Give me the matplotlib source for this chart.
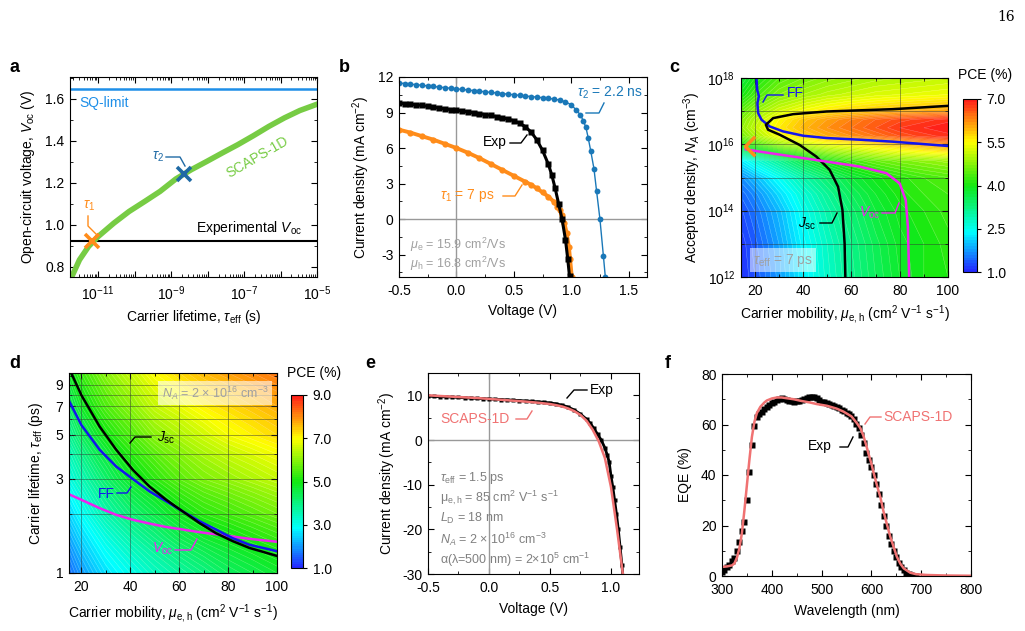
import numpy as np
import matplotlib
matplotlib.use('Agg')
import matplotlib.pyplot as plt
from matplotlib.colors import LinearSegmentedColormap
from matplotlib.path import Path
from matplotlib.lines import Line2D
from matplotlib.ticker import FixedLocator, FuncFormatter, NullFormatter, MultipleLocator, FormatStrFormatter

plt.rcParams.update({
    'font.family': ['Liberation Sans', 'DejaVu Sans'],
    'font.size': 10,
    'mathtext.fontset': 'custom',
    'mathtext.rm': 'Liberation Sans',
    'mathtext.it': 'Liberation Sans:italic',
    'mathtext.bf': 'Liberation Sans:bold',
    'mathtext.sf': 'Liberation Sans',
    'axes.unicode_minus': False,
    'xtick.direction': 'in', 'ytick.direction': 'in',
    'xtick.top': True, 'ytick.right': True,
    'xtick.major.size': 4, 'ytick.major.size': 4,
    'xtick.minor.size': 2, 'ytick.minor.size': 2,
    'xtick.major.pad': 5, 'ytick.major.pad': 4,
    'axes.linewidth': 0.8,
})

# ---------------- data ----------------
# (a) Voc vs lifetime
a_log_tau = [-11.72, -11.51, -11.26, -11.0, -10.57, -10.15, -9.72, -9.30, -8.87,
             -8.45, -8.02, -7.60, -7.17, -6.74, -6.32, -5.89, -5.47, -5.0]
a_voc = [0.752, 0.832, 0.896, 0.943, 1.007, 1.063, 1.111, 1.159, 1.218,
         1.262, 1.302, 1.342, 1.382, 1.425, 1.469, 1.510, 1.545, 1.575]
sq_limit = 1.65
exp_voc = 0.92
tau1_s, voc_tau1 = 7e-12, 0.92
tau2_s, voc_tau2 = 2.2e-9, 1.24

# (b) J-V curves
b_tau2_v = [-0.5, -0.45, -0.4, -0.35, -0.3, -0.25, -0.2, -0.15, -0.1, -0.05, 0.0, 0.05, 0.1,
            0.15, 0.2, 0.25, 0.3, 0.35, 0.4, 0.45, 0.5, 0.55, 0.6, 0.65, 0.7, 0.75, 0.8, 0.85,
            0.9, 0.95, 1.0, 1.04, 1.08, 1.105, 1.128, 1.148, 1.17, 1.198, 1.221, 1.25, 1.28, 1.297]
b_tau2_j = [11.5, 11.45, 11.4, 11.35, 11.3, 11.25, 11.2, 11.15, 11.1, 11.05, 11.0, 10.95, 10.9,
            10.85, 10.8, 10.75, 10.7, 10.65, 10.6, 10.55, 10.5, 10.45, 10.4, 10.35, 10.3, 10.25,
            10.2, 10.13, 10.05, 9.9, 9.65, 9.25, 8.8, 8.3, 7.75, 6.85, 5.75, 4.25, 2.35, 0.0, -3.1, -4.9]
b_tau1_v = [-0.5, -0.4, -0.3, -0.2, -0.1, 0.0, 0.1, 0.2, 0.3, 0.4, 0.5, 0.6, 0.65, 0.7,
            0.75, 0.8, 0.85, 0.88, 0.9, 0.92, 0.94, 0.96, 0.98, 0.99, 1.005]
b_tau1_j = [7.55, 7.3, 7.0, 6.7, 6.35, 6.0, 5.6, 5.15, 4.65, 4.15, 3.65, 3.15, 2.9, 2.6,
            2.25, 1.9, 1.45, 1.05, 0.75, 0.3, -0.3, -1.2, -2.4, -3.4, -4.9]
exp_v = [-0.5, -0.45, -0.4, -0.35, -0.3, -0.25, -0.2, -0.15, -0.1, -0.05, 0.0, 0.05, 0.1, 0.15,
         0.2, 0.25, 0.3, 0.35, 0.4, 0.45, 0.5, 0.55, 0.6, 0.65, 0.7, 0.75, 0.8, 0.83, 0.86,
         0.89, 0.92, 0.95, 0.97, 0.985, 1.0, 1.015, 1.03, 1.045, 1.06, 1.075, 1.09, 1.1]
exp_j = [9.8, 9.75, 9.7, 9.65, 9.6, 9.52, 9.45, 9.38, 9.3, 9.25, 9.2, 9.12, 9.05, 8.98,
         8.9, 8.82, 8.75, 8.65, 8.55, 8.45, 8.3, 8.1, 7.8, 7.35, 6.7, 5.8, 4.65, 3.75, 2.6,
         1.3, 0.0, -1.75, -3.4, -4.85, -8.0, -10.5, -13.5, -16.5, -20.0, -24.0, -28.0, -31.0]
mu_e_label = 15.9
mu_h_label = 16.8

# (c) PCE map vs mobility and acceptor density (tau_eff = 7 ps)
c_mobility = [15, 20, 30, 40, 50, 60, 70, 80, 90, 100]
c_log_NA = [12, 13, 14, 14.5, 15, 15.5, 16, 16.25, 16.5, 16.75, 17, 17.5, 18]
c_pce = [
    [1.1, 1.3, 1.75, 2.3, 2.75, 3.15, 3.5, 3.8, 4.0, 4.1],
    [1.15, 1.35, 1.8, 2.35, 2.8, 3.2, 3.55, 3.85, 4.0, 4.15],
    [1.3, 1.5, 1.95, 2.5, 2.95, 3.35, 3.7, 3.95, 4.1, 4.25],
    [1.45, 1.65, 2.15, 2.65, 3.1, 3.5, 3.8, 4.05, 4.2, 4.3],
    [1.7, 1.95, 2.45, 2.95, 3.35, 3.7, 3.95, 4.15, 4.3, 4.4],
    [2.3, 2.6, 3.1, 3.6, 4.0, 4.3, 4.5, 4.65, 4.75, 4.85],
    [4.0, 4.3, 4.8, 5.1, 5.35, 5.5, 5.7, 5.9, 6.05, 6.2],
    [4.6, 4.9, 5.4, 5.75, 6.0, 6.2, 6.4, 6.6, 6.75, 6.85],
    [4.8, 5.1, 5.6, 5.95, 6.2, 6.4, 6.6, 6.8, 6.9, 7.0],
    [4.7, 5.0, 5.5, 5.85, 6.1, 6.3, 6.5, 6.65, 6.75, 6.85],
    [4.5, 4.8, 5.2, 5.45, 5.65, 5.8, 5.9, 6.0, 6.05, 6.1],
    [4.0, 4.3, 4.7, 4.9, 5.05, 5.15, 5.25, 5.3, 5.35, 5.4],
    [3.7, 4.0, 4.4, 4.6, 4.75, 4.85, 4.95, 5.0, 5.05, 5.1],
]
c_ff_mu = [20.7, 21.0, 21.7, 21.1, 21.4, 22.8, 26.2, 31.7, 40.0, 49.7, 63.4, 77.2, 100]
c_ff_logNA = [18.0, 17.65, 17.45, 17.24, 16.94, 16.74, 16.54, 16.39, 16.26, 16.19, 16.14, 16.08, 15.95]
c_jsc_mu = [100, 77.2, 49.7, 35.9, 27.6, 24.6, 25.5, 30.3, 38.6, 45.5, 51.0, 54.5, 56.3, 57.2, 57.5]
c_jsc_logNA = [17.16, 17.06, 16.99, 16.91, 16.79, 16.59, 16.44, 16.29, 15.98, 15.63, 15.23, 14.72, 14.02, 13.01, 12.0]
c_voc_mu = [16.3, 22.1, 35.9, 49.7, 63.4, 74.5, 80.0, 82.5, 83.4, 83.9]
c_voc_logNA = [15.85, 15.78, 15.63, 15.48, 15.33, 15.13, 14.82, 14.32, 13.51, 12.0]
c_exp_mu, c_exp_logNA = 16.0, 15.95

# (d) PCE map vs mobility and lifetime (N_A = 2e16)
d_mobility = [15, 20, 30, 40, 50, 60, 70, 80, 90, 100]
d_tau_ps = [1, 1.5, 2, 3, 5, 7, 10.3]
d_pce = [
    [1.6, 2.0, 2.6, 3.0, 3.4, 3.7, 4.0, 4.3, 4.5, 4.7],
    [2.1, 2.5, 3.1, 3.6, 4.0, 4.4, 4.7, 4.9, 5.1, 5.3],
    [2.5, 2.9, 3.6, 4.1, 4.5, 4.9, 5.2, 5.4, 5.6, 5.8],
    [3.1, 3.5, 4.2, 4.8, 5.2, 5.6, 5.9, 6.1, 6.3, 6.5],
    [3.8, 4.3, 5.0, 5.5, 6.0, 6.3, 6.6, 6.9, 7.1, 7.3],
    [4.3, 4.8, 5.5, 6.0, 6.5, 6.8, 7.1, 7.3, 7.5, 7.7],
    [4.8, 5.3, 6.0, 6.5, 7.0, 7.3, 7.6, 7.8, 8.0, 8.2],
]
d_jsc_mu = [15.9, 20, 27.5, 34.3, 41.1, 47.9, 54.7, 61.5, 68.3, 75.1, 81.9, 88.7, 100]
d_jsc_tau = [10.3, 7.98, 5.52, 4.21, 3.33, 2.74, 2.35, 2.05, 1.79, 1.59, 1.45, 1.34, 1.22]
d_ff_mu = [14.8, 20, 27.5, 34.3, 41.1, 47.9, 54.7, 61.5, 68.3, 75.1, 81.9, 88.7, 100]
d_ff_tau = [7.53, 5.63, 4.21, 3.46, 2.99, 2.59, 2.31, 2.05, 1.83, 1.66, 1.50, 1.39, 1.29]
d_voc_mu = [14.8, 20, 27.5, 34.3, 41.1, 47.9, 54.7, 61.5, 68.3, 75.1, 81.9, 88.7, 100]
d_voc_tau = [2.51, 2.35, 2.13, 1.97, 1.86, 1.78, 1.71, 1.66, 1.61, 1.57, 1.53, 1.49, 1.44]

# (e) fitted J-V
e_scaps_v = [-0.5, -0.4, -0.3, -0.2, -0.1, 0.0, 0.1, 0.2, 0.3, 0.4, 0.5, 0.55, 0.6, 0.65,
             0.7, 0.75, 0.8, 0.85, 0.9, 0.95, 1.0, 1.05, 1.1, 1.12]
e_scaps_j = [10.0, 9.85, 9.7, 9.55, 9.4, 9.2, 9.0, 8.8, 8.6, 8.35, 8.05, 7.8, 7.5, 7.05,
             6.45, 5.6, 4.3, 2.3, -0.3, -4.0, -10.5, -20.0, -30.5, -34.0]

# (f) EQE
f_exp_wl = list(range(300, 695, 5))
f_exp_eqe = [1.5, 2.5, 3.5, 4.5, 5.8, 7.2, 10.0, 13.5, 18.0, 21.5, 30.0, 41.0, 52.0, 59.5,
             63.0, 64.0, 65.0, 66.0, 67.0, 67.8, 68.5, 69.1, 69.6, 70.1, 70.4, 70.2, 69.8,
             69.4, 69.2, 69.1, 69.2, 69.4, 69.8, 70.1, 70.4, 70.7, 70.9, 70.7, 70.3, 69.7,
             69.0, 69.0, 68.7, 68.2, 67.7, 67.3, 66.9, 66.4, 65.9, 65.3, 64.7, 64.0, 63.2,
             62.2, 60.3, 58.5, 55.8, 52.8, 48.8, 46.0, 43.2, 40.0, 36.3, 32.3, 28.0, 23.8,
             19.8, 16.0, 12.8, 10.0, 7.5, 5.3, 3.5, 2.2, 1.2, 0.6, 0.2, 0.05, 0.0]
f_scaps_wl = [300, 310, 320, 325, 330, 335, 340, 345, 350, 355, 360, 365, 370, 377, 385, 390,
              400, 410, 420, 430, 444, 460, 477, 490, 511, 530, 544, 560, 571, 578, 584, 590,
              594, 600, 604, 611, 618, 624, 631, 638, 645, 651, 658, 665, 678, 690, 712, 750, 800]
f_scaps_eqe = [3.6, 3.8, 4.2, 5.0, 7.3, 11.0, 17.0, 26.0, 36.0, 46.0, 55.0, 61.0, 64.5, 67.0,
               68.7, 69.5, 70.3, 70.7, 70.7, 70.4, 70.0, 69.3, 68.7, 68.1, 67.4, 66.3, 65.1,
               63.2, 60.5, 58.5, 55.5, 51.5, 48.5, 44.5, 41.2, 36.0, 31.2, 25.8, 20.6, 15.5,
               11.3, 7.7, 4.9, 3.0, 1.3, 0.7, 0.4, 0.2, 0.1]

# ---------------- styling ----------------
W, H = 1025, 631
fig = plt.figure(figsize=(W / 100, H / 100), dpi=100)

def axes_px(l, t, r, b):
    return fig.add_axes([l / W, 1 - b / H, (r - l) / W, (b - t) / H])

def ftext(px, py, s, **kw):
    kw.setdefault('va', 'center')
    return fig.text(px / W, 1 - py / H, s, **kw)

def leader(pts, color, lw=1.0):
    xs = [p[0] / W for p in pts]
    ys = [1 - p[1] / H for p in pts]
    fig.add_artist(Line2D(xs, ys, color=color, lw=lw, transform=fig.transFigure))

cmap = LinearSegmentedColormap.from_list(
    'rb', [(0.0, '#2424ff'), (0.23, '#00ffff'), (0.5, '#12e812'), (0.75, '#ffff00'), (1.0, '#ff1a1a')])

GREEN = '#77cc44'
ORANGE = '#ff8c1a'
BLUE_B = '#1a78b8'
PINK = '#f07272'
GRAY = '#a0a0a0'
MAG = '#ee22ee'
FFBLUE = '#1414ee'

# ---------------- (a) ----------------
axA = axes_px(70, 77, 317, 277)
axA.set_xscale('log')
axA.set_xlim(10 ** -11.77, 1e-5)
axA.set_ylim(0.75, 1.705)
axA.axhline(sq_limit, color='#1e8fe8', lw=1.8)
axA.axhline(exp_voc, color='black', lw=1.5)
axA.plot(10 ** np.array(a_log_tau), a_voc, color=GREEN, lw=4.0)
axA.plot([tau1_s], [voc_tau1], marker='x', ms=9.5, mew=2.6, color=ORANGE, ls='none')
axA.plot([tau2_s], [voc_tau2], marker='x', ms=9.5, mew=2.6, color='#1f6aa5', ls='none')
axA.xaxis.set_major_locator(FixedLocator([10.0 ** k for k in range(-11, -4)]))
axA.xaxis.set_minor_locator(FixedLocator([m * 10.0 ** k for k in range(-12, -5) for m in range(2, 10)]))
axA.xaxis.set_major_formatter(FuncFormatter(
    lambda v, _: (r'$10^{%d}$' % round(np.log10(v))) if round(np.log10(v)) % 2 else ''))
axA.xaxis.set_minor_formatter(NullFormatter())
axA.yaxis.set_major_locator(MultipleLocator(0.2))
axA.yaxis.set_minor_locator(MultipleLocator(0.1))
axA.yaxis.set_major_formatter(FormatStrFormatter('%.1f'))
axA.set_xlabel(r'Carrier lifetime, $\tau_\mathrm{eff}$ (s)', labelpad=4)
axA.set_ylabel(r'Open-circuit voltage, $V_\mathrm{oc}$ (V)', labelpad=6)
ftext(79, 103, 'SQ-limit', color='#1e8fe8', ha='left')
ftext(302, 228, r'Experimental $V_\mathrm{oc}$', ha='right')
ftext(257, 157, 'SCAPS-1D', color=GREEN, ha='center', rotation=30)
ftext(158, 157, r'$\tau_2$', color='#1f6aa5', ha='center')
leader([(166, 157), (180, 157), (185, 166)], '#1f6aa5')
ftext(89, 206, r'$\tau_1$', color=ORANGE, ha='center')
leader([(88, 216), (88, 226), (96, 234)], ORANGE)

# ---------------- (b) ----------------
axB = axes_px(399, 77, 647, 277)
axB.set_xlim(-0.5, 1.66)
axB.set_ylim(-4.9, 12)
axB.axhline(0, color='#999999', lw=1.0)
axB.axvline(0, color='#999999', lw=1.0)
axB.plot(b_tau2_v, b_tau2_j, color=BLUE_B, lw=1.0, marker='o', ms=4.2, mec='none')
axB.plot(b_tau1_v, b_tau1_j, color=ORANGE, lw=2.8, marker='o', ms=4.5, mec='none')
axB.plot(exp_v, exp_j, color='black', lw=2.2, marker='s', ms=4, mec='none')
axB.xaxis.set_major_locator(MultipleLocator(0.5))
axB.xaxis.set_minor_locator(MultipleLocator(0.25))
axB.xaxis.set_major_formatter(FormatStrFormatter('%.1f'))
axB.yaxis.set_major_locator(MultipleLocator(3))
axB.yaxis.set_minor_locator(MultipleLocator(1.5))
axB.set_xlabel('Voltage (V)', labelpad=4)
axB.set_ylabel(r'Current density (mA cm$^{-2}$)', labelpad=4)
ftext(577, 93, r'$\tau_2$ = 2.2 ns', color=BLUE_B, ha='left')
leader([(586, 113), (599, 113), (604, 103)], BLUE_B)
ftext(483, 142, 'Exp', ha='left')
leader([(510, 143), (521, 143), (527, 135)], 'black')
ftext(440, 195, r'$\tau_1$ = 7 ps', color=ORANGE, ha='left')
leader([(503, 196), (515, 196), (522, 185)], ORANGE)
ftext(410, 245, r'$\mu_\mathrm{e}$ = %.1f cm$^2$/Vs' % mu_e_label, color=GRAY, ha='left', fontsize=9)
ftext(410, 264, r'$\mu_\mathrm{h}$ = %.1f cm$^2$/Vs' % mu_h_label, color=GRAY, ha='left', fontsize=9)

# ---------------- (c) ----------------
axC = axes_px(741, 78, 948, 277)
lev_c = np.linspace(1, 7, 61)
cfC = axC.contourf(c_mobility, c_log_NA, c_pce, levels=lev_c, cmap=cmap)
axC.contour(c_mobility, c_log_NA, c_pce, levels=lev_c, colors='white', linewidths=0.3, alpha=0.4)
for xv in [20, 40, 60, 80]:
    axC.axvline(xv, color='#333333', lw=0.6, alpha=0.55)
for yv in [13, 14, 15, 16, 17]:
    axC.axhline(yv, color='#333333', lw=0.6, alpha=0.55)
axC.plot(c_ff_mu, c_ff_logNA, color=FFBLUE, lw=1.8)
axC.plot(c_jsc_mu, c_jsc_logNA, color='black', lw=1.8)
axC.plot(c_voc_mu, c_voc_logNA, color=MAG, lw=1.8)
chevron = Path([(1, 1), (0, 0), (1, -1)], [Path.MOVETO, Path.LINETO, Path.LINETO])
axC.plot([c_exp_mu], [c_exp_logNA], marker=chevron, ms=14, mew=2.5, mfc='none',
         color=ORANGE, ls='none', clip_on=False)
axC.set_xlim(14.3, 100)
axC.set_ylim(12, 18)
axC.xaxis.set_major_locator(MultipleLocator(20))
axC.xaxis.set_minor_locator(MultipleLocator(10))
axC.yaxis.set_major_locator(FixedLocator([12, 14, 16, 18]))
axC.yaxis.set_minor_locator(FixedLocator([13, 15, 17]))
axC.yaxis.set_major_formatter(FuncFormatter(lambda v, _: r'$10^{%d}$' % round(v)))
axC.set_xlabel(r'Carrier mobility, $\mu_\mathrm{e,h}$ (cm$^2$ V$^{-1}$ s$^{-1}$)', labelpad=4)
axC.set_ylabel(r'Acceptor density, $N_A$ (cm$^{-3}$)', labelpad=3)
caxC = axes_px(963, 99, 977, 272)
cbC = fig.colorbar(cfC, cax=caxC, ticks=[1.0, 2.5, 4.0, 5.5, 7.0])
cbC.ax.yaxis.set_major_formatter(FormatStrFormatter('%.1f'))
caxC.tick_params(direction='out', length=3, width=0.8)
cbC.outline.set_linewidth(0.8)
ftext(985, 75, 'PCE (%)', ha='center')
ftext(787, 93, 'FF', color=FFBLUE, ha='left')
leader([(763, 102), (767, 95), (783, 95)], FFBLUE)
ftext(798, 224, r'$J_\mathrm{sc}$', ha='left')
leader([(820, 223), (832, 223), (837, 213)], 'black')
ftext(859, 213, r'$V_\mathrm{oc}$', color=MAG, ha='left')
leader([(882, 213), (895, 213), (899, 203)], MAG)
ftext(753, 260, r'$\tau_\mathrm{eff}$ = 7 ps', color=GRAY, ha='left',
      bbox=dict(boxstyle='square,pad=0.25', fc='white', ec='none', alpha=0.55))

# ---------------- (d) ----------------
axD = axes_px(69, 373, 277, 573)
lev_d = np.linspace(1, 9, 81)
cfD = axD.contourf(d_mobility, d_tau_ps, d_pce, levels=lev_d, cmap=cmap)
axD.contour(d_mobility, d_tau_ps, d_pce, levels=lev_d, colors='white', linewidths=0.3, alpha=0.4)
axD.set_yscale('log')
for xv in [20, 40, 60, 80]:
    axD.axvline(xv, color='#333333', lw=0.6, alpha=0.55)
for yv in [2, 3, 4, 5, 6, 7, 8, 9]:
    axD.axhline(yv, color='#333333', lw=0.6, alpha=0.55)
axD.plot(d_voc_mu, d_voc_tau, color=MAG, lw=1.8)
axD.plot(d_ff_mu, d_ff_tau, color=FFBLUE, lw=1.8)
axD.plot(d_jsc_mu, d_jsc_tau, color='black', lw=1.8)
axD.set_xlim(15, 100)
axD.set_ylim(1, 10.3)
axD.xaxis.set_major_locator(MultipleLocator(20))
axD.xaxis.set_minor_locator(MultipleLocator(10))
axD.yaxis.set_major_locator(FixedLocator([1, 3, 5, 7, 9]))
axD.yaxis.set_minor_locator(FixedLocator([2, 4, 6, 8, 10]))
axD.yaxis.set_major_formatter(FuncFormatter(lambda v, _: '%d' % round(v)))
axD.yaxis.set_minor_formatter(NullFormatter())
axD.set_xlabel(r'Carrier mobility, $\mu_\mathrm{e,h}$ (cm$^2$ V$^{-1}$ s$^{-1}$)', labelpad=6)
axD.set_ylabel(r'Carrier lifetime, $\tau_\mathrm{eff}$ (ps)', labelpad=8)
caxD = axes_px(291, 395, 303, 568)
cbD = fig.colorbar(cfD, cax=caxD, ticks=[1.0, 3.0, 5.0, 7.0, 9.0])
cbD.ax.yaxis.set_major_formatter(FormatStrFormatter('%.1f'))
caxD.tick_params(direction='out', length=3, width=0.8)
cbD.outline.set_linewidth(0.8)
ftext(314, 373, 'PCE (%)', ha='center')
ftext(157, 438, r'$J_\mathrm{sc}$', ha='left')
leader([(130, 443), (135, 437), (151, 437)], 'black')
ftext(98, 494, 'FF', color=FFBLUE, ha='left')
leader([(117, 493), (127, 493), (131, 487)], FFBLUE)
ftext(152, 549, r'$V_\mathrm{oc}$', color=MAG, ha='left')
leader([(175, 550), (191, 550), (197, 539)], MAG)
ftext(162, 393, r'$N_A$ = 2 $\times$ 10$^{16}$ cm$^{-3}$', color=GRAY, ha='left', fontsize=9,
      bbox=dict(boxstyle='square,pad=0.3', fc='white', ec='none', alpha=0.6))

# ---------------- (e) ----------------
axE = axes_px(428, 373, 639, 574)
axE.set_xlim(-0.5, 1.23)
axE.set_ylim(-30, 15)
axE.axhline(0, color='#999999', lw=1.0)
axE.axvline(0, color='#999999', lw=1.0)
axE.plot(exp_v, exp_j, color='black', lw=2.0, marker='s', ms=3.5, mec='none')
axE.plot(e_scaps_v, e_scaps_j, color=PINK, lw=1.8)
axE.xaxis.set_major_locator(MultipleLocator(0.5))
axE.xaxis.set_minor_locator(MultipleLocator(0.25))
axE.xaxis.set_major_formatter(FormatStrFormatter('%.1f'))
axE.yaxis.set_major_locator(MultipleLocator(10))
axE.yaxis.set_minor_locator(MultipleLocator(5))
axE.set_xlabel('Voltage (V)', labelpad=5)
axE.set_ylabel(r'Current density (mA cm$^{-2}$)', labelpad=3)
ftext(590, 390, 'Exp', ha='left')
leader([(567, 398), (574, 390), (587, 390)], 'black')
ftext(440, 419, 'SCAPS-1D', color=PINK, ha='left')
leader([(516, 419), (527, 419), (532, 411)], PINK)
ftext(440, 478, r'$\tau_\mathrm{eff}$ = 1.5 ps', color='#808080', ha='left', fontsize=9)
ftext(440, 498, r'$\mathrm{\mu_{e,h}}$ = 85 cm$^2$ V$^{-1}$ s$^{-1}$', color='#808080', ha='left', fontsize=9)
ftext(440, 518, r'$L_\mathrm{D}$ = 18 nm', color='#808080', ha='left', fontsize=9)
ftext(440, 539, r'$N_A$ = 2 $\times$ 10$^{16}$ cm$^{-3}$', color='#808080', ha='left', fontsize=9)
ftext(440, 560, r'$\mathrm{\alpha(\lambda}$=500 nm) = 2$\times$10$^5$ cm$^{-1}$', color='#808080', ha='left', fontsize=9)

# ---------------- (f) ----------------
axF = axes_px(722, 374, 971, 576)
axF.plot(f_exp_wl, f_exp_eqe, color='black', lw=1.0, marker='s', ms=4, mec='none', ls='none')
axF.plot(f_scaps_wl, f_scaps_eqe, color=PINK, lw=1.8)
axF.set_xlim(300, 800)
axF.set_ylim(0, 80)
axF.xaxis.set_major_locator(MultipleLocator(100))
axF.xaxis.set_minor_locator(MultipleLocator(50))
axF.yaxis.set_major_locator(MultipleLocator(20))
axF.yaxis.set_minor_locator(MultipleLocator(10))
axF.set_xlabel('Wavelength (nm)', labelpad=5)
axF.set_ylabel('EQE (%)', labelpad=6)
ftext(883, 417, 'SCAPS-1D', color=PINK, ha='left')
leader([(865, 424), (870, 417), (881, 417)], PINK)
ftext(808, 446, 'Exp', ha='left')
leader([(840, 447), (848, 447), (853, 437)], 'black')

# panel letters and page number
for lab, px, py in [('a', 14, 68), ('b', 344, 68), ('c', 674, 68),
                    ('d', 15, 363), ('e', 370, 363), ('f', 668, 363)]:
    ftext(px, py, lab, fontsize=13, fontweight='bold', ha='center')
ftext(1006, 17, '16', ha='center', family='DejaVu Serif', fontsize=10)

fig.savefig('out.png', dpi=100)
